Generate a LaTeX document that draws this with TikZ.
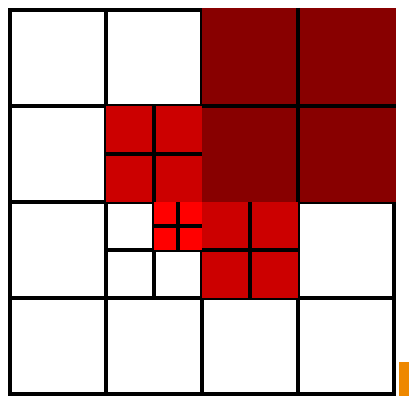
\documentclass[tikz,border=0pt]{standalone}
\usepackage{xcolor}
\usepackage{tikz}
\definecolor{deepred}{HTML}{880000}
\definecolor{midred}{HTML}{CC0000}
\definecolor{hotred}{HTML}{FF0000}
\definecolor{tabc}{HTML}{EE8800}
\tikzset{
  ln/.style={line width=4.2pt,black},
  qd/.style={line width=4.2pt,black,line cap=butt}
}
\begin{document}
\begin{tikzpicture}[x=1pt,y=-1pt]
\useasboundingbox (0,0) rectangle (409,396);
\fill[white] (0,0) rectangle (409,396);
% base grid
\foreach \k in {1,2,3}{
 \draw[ln] ({10+\k*96},10) -- ({10+\k*96},394);
 \draw[ln] (10,{10+\k*96}) -- (394,{10+\k*96});}
\draw[ln] (10,10) rectangle (394,394);
\draw[ln] (154,202) -- (154,298);
\draw[ln] (106,250) -- (202,250);
% coloured quads
\fill[deepred] (202,8) rectangle (396,202);
\fill[midred] (106,106) rectangle (202,202);
\fill[midred] (202,202) rectangle (298,298);
\fill[hotred] (154,202) rectangle (202,250);
% lines inside the coloured quads
\draw[qd] (298,8) -- (298,202);
\draw[qd] (202,106) -- (396,106);
\foreach \x/\y/\s in {106/106/96,202/202/96,154/202/48}{
 \draw[qd] ({\x+\s/2},\y) -- ({\x+\s/2},{\y+\s});
 \draw[qd] (\x,{\y+\s/2}) -- ({\x+\s},{\y+\s/2});}
\fill[tabc] (399,362) rectangle (409,396);
\end{tikzpicture}
\end{document}
